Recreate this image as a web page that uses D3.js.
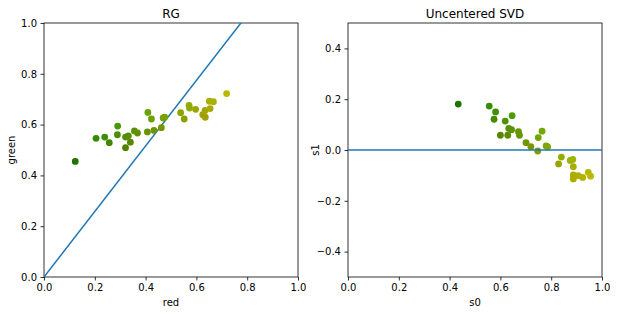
<!DOCTYPE html>
<html><head><meta charset="utf-8">
<script src="https://cdn.jsdelivr.net/npm/d3@7"></script>
<style>body{margin:0;background:#fff}svg{display:block;font-family:"DejaVu Sans",sans-serif}</style>
</head><body>
<svg id="c" width="617" height="315"></svg>
<script>
// RG scatter: red / green channel values
const red   = [0.123,0.205,0.239,0.257,0.290,0.289,0.321,0.332,0.321,0.340,0.356,0.368,0.407,0.433,0.409,0.423,0.462,0.469,0.475,0.538,0.552,0.571,0.573,0.597,0.625,0.635,0.634,0.654,0.651,0.667,0.719];
const green = [0.455,0.546,0.551,0.529,0.594,0.560,0.551,0.556,0.509,0.531,0.575,0.567,0.571,0.577,0.648,0.622,0.588,0.626,0.629,0.647,0.622,0.676,0.665,0.660,0.639,0.629,0.656,0.663,0.692,0.690,0.722];
// reference line in RG panel (end points)
const lineX = [0, 1];
const lineY = [0, 1.29];
// Uncentered SVD projections
const s0 = [0.434,0.556,0.581,0.575,0.619,0.646,0.633,0.644,0.600,0.629,0.671,0.675,0.764,0.749,0.701,0.720,0.747,0.780,0.786,0.840,0.829,0.875,0.885,0.887,0.887,0.887,0.906,0.924,0.946,0.955];
const s1 = [0.181,0.173,0.150,0.121,0.114,0.135,0.085,0.080,0.058,0.058,0.072,0.058,0.074,0.049,0.029,0.013,-0.004,0.016,0.012,-0.028,-0.055,-0.041,-0.037,-0.066,-0.098,-0.114,-0.101,-0.108,-0.088,-0.103];
const hLineX = [0, 1];
const hLineY = [0, 0];
const ticks01 = [0,0.2,0.4,0.6,0.8,1.0];
const ticksS1 = [-0.4,-0.2,0,0.2,0.4];

const svg = d3.select("#c");
const lab = d => (d < 0 ? "\u2212" : "") + Math.abs(d).toFixed(1);
const blue = "#1f77b4";

function panel(left, title, xDom, yDom, yTicks, xl, yl, id) {
  const x = d3.scaleLinear().domain(xDom).range([left, left + 254]);
  const y = d3.scaleLinear().domain(yDom).range([277, 23]);
  const g = svg.append("g");
  svg.append("clipPath").attr("id", id).append("rect")
    .attr("x", left).attr("y", 23).attr("width", 254).attr("height", 254);
  const xa = g.append("g").attr("transform", "translate(0,277)")
    .call(d3.axisBottom(x).tickValues(ticks01).tickFormat(lab).tickSize(3.5).tickPadding(3.5));
  const ya = g.append("g").attr("transform", `translate(${left},0)`)
    .call(d3.axisLeft(y).tickValues(yTicks).tickFormat(lab).tickSize(3.5).tickPadding(3.5));
  [xa, ya].forEach(a => {
    a.selectAll("text").attr("font-size", 10).attr("fill", "#000").attr("font-family", "DejaVu Sans");
    a.selectAll("line").attr("stroke", "#000").attr("stroke-width", 0.8);
    a.select(".domain").remove();
  });
  g.append("rect").attr("x", left).attr("y", 23).attr("width", 254).attr("height", 254)
    .attr("fill", "none").attr("stroke", "#000").attr("stroke-width", 0.8);
  g.append("text").attr("x", left + 127).attr("y", 18).attr("text-anchor", "middle")
    .attr("font-size", 12).text(title);
  g.append("text").attr("x", left + 127).attr("y", 306).attr("text-anchor", "middle")
    .attr("font-size", 10).text(xl);
  g.append("text").attr("transform", `translate(${left - 29},150) rotate(-90)`)
    .attr("text-anchor", "middle").attr("font-size", 10).text(yl);
  return {x, y, g};
}

// Left panel
const L = panel(44, "RG", [0,1], [0,1], ticks01, "red", "green", "clipL");
const rgData = red.map((r, i) => ({x: r, y: green[i], r: r, gr: green[i]}));
L.g.append("path").datum(lineX.map((v, i) => [v, lineY[i]]))
  .attr("clip-path", "url(#clipL)")
  .attr("d", d3.line().x(d => L.x(d[0])).y(d => L.y(d[1])))
  .attr("stroke", blue).attr("stroke-width", 1.5).attr("fill", "none");
L.g.append("g").attr("clip-path", "url(#clipL)").selectAll("circle").data(rgData).join("circle")
  .attr("cx", d => L.x(d.x)).attr("cy", d => L.y(d.y)).attr("r", 3.4)
  .attr("fill", d => d3.rgb(d.r * 255, d.gr * 255, 0));

// Right panel
const R = panel(348, "Uncentered SVD", [0,1], [-0.5,0.5], ticksS1, "s0", "s1", "clipR");
// approximate inverse of the projection, only to recover point colours
const A = [[0.511, 0.807], [-0.735, 0.594]];
const det = A[0][0] * A[1][1] - A[0][1] * A[1][0];
const svdData = s0.map((a, i) => {
  const b = s1[i];
  const rr = (A[1][1] * a - A[0][1] * b) / det;
  const gg = (-A[1][0] * a + A[0][0] * b) / det;
  return {x: a, y: b, r: Math.max(0, Math.min(1, rr)), gr: Math.max(0, Math.min(1, gg))};
});
R.g.append("g").attr("clip-path", "url(#clipR)").selectAll("circle").data(svdData).join("circle")
  .attr("cx", d => R.x(d.x)).attr("cy", d => R.y(d.y)).attr("r", 3.4)
  .attr("fill", d => d3.rgb(d.r * 255, d.gr * 255, 0));
R.g.append("path").datum(hLineX.map((v, i) => [v, hLineY[i]]))
  .attr("clip-path", "url(#clipR)")
  .attr("d", d3.line().x(d => R.x(d[0])).y(d => R.y(d[1])))
  .attr("stroke", blue).attr("stroke-width", 1.5).attr("fill", "none");
</script>
</body></html>
